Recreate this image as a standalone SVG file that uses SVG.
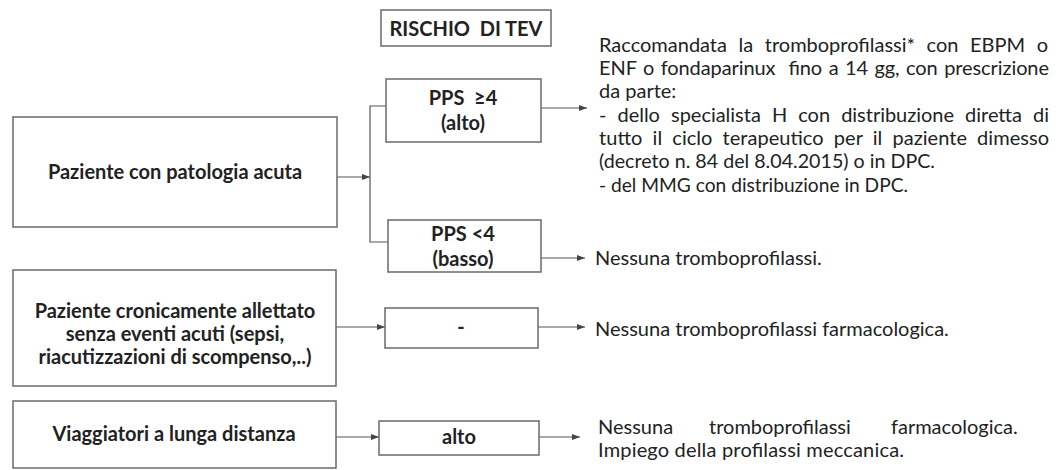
<svg xmlns="http://www.w3.org/2000/svg" width="1056" height="470" viewBox="0 0 1056 470">
<defs>
<marker id="ah" markerUnits="userSpaceOnUse" markerWidth="9" markerHeight="7" refX="8" refY="3" orient="auto">
<path d="M0,0 L8,3 L0,6 z" fill="#444"/>
</marker>
<style>
.box{fill:#fff;stroke:#6a6a6a;stroke-width:1.5}
.b{font-family:Lato,"Liberation Sans",sans-serif;font-weight:bold;font-size:20px;fill:#222;text-anchor:middle}
.t{font-family:Lato,"Liberation Sans",sans-serif;font-size:20px;fill:#222}
.c{fill:none;stroke:#555;stroke-width:1.2}
</style>
</defs>
<rect width="1056" height="470" fill="#fff"/>
<g id="connectors">
<line class="c" x1="337" y1="177" x2="370" y2="177" marker-end="url(#ah)"/>
<path class="c" d="M386,106 H370 V242 H388"/>
<line class="c" x1="541" y1="108" x2="587" y2="108" marker-end="url(#ah)"/>
<line class="c" x1="541" y1="258" x2="585" y2="258" marker-end="url(#ah)"/>
<line class="c" x1="336" y1="327" x2="385" y2="327" marker-end="url(#ah)"/>
<line class="c" x1="538" y1="327" x2="585" y2="327" marker-end="url(#ah)"/>
<line class="c" x1="336" y1="437" x2="379" y2="437" marker-end="url(#ah)"/>
<line class="c" x1="539" y1="437" x2="580" y2="437" marker-end="url(#ah)"/>
</g>
<g id="rischio">
<rect class="box" x="381" y="10" width="170" height="36"/>
<text class="b" x="466" y="36" font-size="19" xml:space="preserve">RISCHIO  DI TEV</text>
</g>
<g id="acuta">
<rect class="box" x="13" y="117" width="324" height="110"/>
<text class="b" x="175" y="179">Paziente con patologia acuta</text>
</g>
<g id="pps-alto">
<rect class="box" x="386" y="79" width="155" height="63"/>
<text class="b" x="463" y="105" xml:space="preserve">PPS  ≥4</text>
<text class="b" x="463" y="130">(alto)</text>
</g>
<g id="pps-basso">
<rect class="box" x="388" y="220" width="153" height="52"/>
<text class="b" x="463" y="241">PPS &lt;4</text>
<text class="b" x="463" y="266">(basso)</text>
</g>
<g id="cronico">
<rect class="box" x="13" y="270" width="323" height="116"/>
<text class="b" x="175" y="318">Paziente cronicamente allettato</text>
<text class="b" x="175" y="341">senza eventi acuti (sepsi,</text>
<text class="b" x="175" y="364">riacutizzazioni di scompenso,..)</text>
</g>
<g id="trattino">
<rect class="box" x="385" y="308" width="153" height="40"/>
<text class="b" x="461" y="334">-</text>
</g>
<g id="viaggiatori">
<rect class="box" x="13" y="401" width="323" height="67"/>
<text class="b" x="174" y="441">Viaggiatori a lunga distanza</text>
</g>
<g id="alto">
<rect class="box" x="379" y="421" width="160" height="34"/>
<text class="b" x="459" y="444">alto</text>
</g>
<g id="txt-alto">
<text class="t" x="599" y="52" word-spacing="6.5" textLength="449" lengthAdjust="spacing">Raccomandata la tromboprofilassi* con EBPM o</text>
<text class="t" x="599" y="75" word-spacing="1.5" textLength="450" lengthAdjust="spacing" xml:space="preserve">ENF o fondaparinux  fino a 14 gg, con prescrizione</text>
<text class="t" x="599" y="98">da parte:</text>
<text class="t" x="599" y="122" word-spacing="6" textLength="450" lengthAdjust="spacing">- dello specialista H con distribuzione diretta di</text>
<text class="t" x="599" y="145" word-spacing="5" textLength="450" lengthAdjust="spacing">tutto il ciclo terapeutico per il paziente dimesso</text>
<text class="t" x="599" y="168" textLength="336" lengthAdjust="spacingAndGlyphs">(decreto n. 84 del 8.04.2015) o in DPC.</text>
<text class="t" x="599" y="192" textLength="309" lengthAdjust="spacingAndGlyphs">- del MMG con distribuzione in DPC.</text>
</g>
<g id="txt-basso">
<text class="t" x="595" y="265">Nessuna tromboprofilassi.</text>
</g>
<g id="txt-cronico">
<text class="t" x="595" y="336">Nessuna tromboprofilassi farmacologica.</text>
</g>
<g id="txt-viaggiatori">
<text class="t" y="434"><tspan x="598">Nessuna</tspan><tspan x="709">tromboprofilassi</tspan><tspan x="891">farmacologica.</tspan></text>
<text class="t" x="598" y="457" textLength="306" lengthAdjust="spacing">Impiego della profilassi meccanica.</text>
</g>
</svg>
